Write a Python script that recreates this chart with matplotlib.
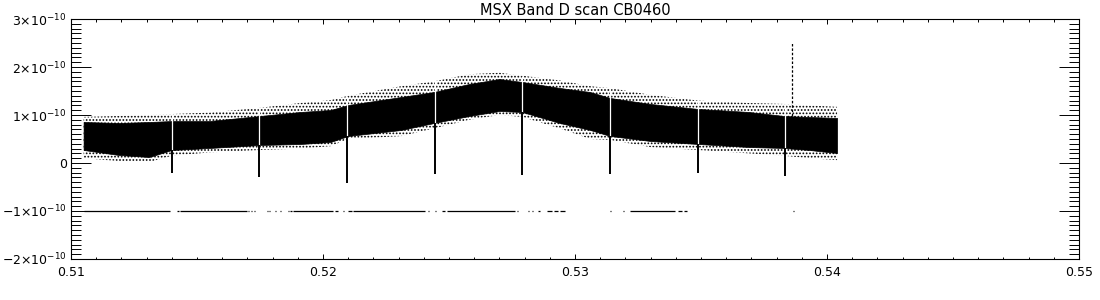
import matplotlib
matplotlib.use("Agg")
import matplotlib.pyplot as plt
from matplotlib.ticker import MultipleLocator, FixedLocator
import numpy as np

# ---- data ----
band_x = [0.5105, 0.5119, 0.5131, 0.5140, 0.5155, 0.5175, 0.5191, 0.5203, 0.5210,
          0.5231, 0.5244, 0.5258, 0.5270, 0.5279, 0.5294, 0.5306, 0.5314, 0.5330,
          0.5349, 0.5369, 0.5383, 0.5393, 0.5404]
core_hi = [0.854, 0.833, 0.854, 0.875, 0.875, 0.979, 1.063, 1.104, 1.208,
           1.375, 1.479, 1.646, 1.750, 1.688, 1.563, 1.479, 1.354, 1.229,
           1.125, 1.063, 0.979, 0.958, 0.938]
core_lo = [0.271, 0.167, 0.125, 0.271, 0.313, 0.375, 0.396, 0.438, 0.563,
           0.688, 0.833, 0.979, 1.083, 1.063, 0.833, 0.688, 0.563, 0.458,
           0.396, 0.333, 0.313, 0.271, 0.208]
scat_hi = [0.96, 0.98, 1.00, 1.02, 1.05, 1.15, 1.25, 1.31, 1.40,
           1.60, 1.70, 1.85, 1.88, 1.82, 1.72, 1.60, 1.56, 1.42,
           1.30, 1.25, 1.23, 1.20, 1.17]
scat_lo = [0.10, 0.04, 0.02, 0.15, 0.22, 0.27, 0.30, 0.35, 0.50,
           0.56, 0.72, 0.90, 1.00, 0.96, 0.72, 0.50, 0.48, 0.33,
           0.27, 0.20, 0.15, 0.10, 0.06]

dip_x = [0.51401, 0.51746, 0.52095, 0.52444, 0.52791, 0.53139, 0.53488, 0.53833]
dip_min = [-0.21, -0.29, -0.42, -0.23, -0.25, -0.23, -0.21, -0.27]
peak_x = 0.53863
peak_max = 2.50

flag_level = -1.0
flag_start = [0.51052, 0.51421, 0.51433, 0.51702, 0.51714, 0.51726, 0.51778, 0.51786,
              0.51810, 0.51829, 0.51861, 0.51869, 0.51881, 0.52048, 0.52079, 0.52099,
              0.52119, 0.52417, 0.52444, 0.52472, 0.52492, 0.52770, 0.52813, 0.52829,
              0.52853, 0.52889, 0.52917, 0.52940, 0.53139, 0.53190, 0.53218, 0.53409,
              0.53433, 0.53865]
flag_end = [0.51393, 0.51429, 0.51698, 0.51706, 0.51718, 0.51730, 0.51782, 0.51790,
            0.51813, 0.51833, 0.51865, 0.51877, 0.52040, 0.52060, 0.52083, 0.52115,
            0.52405, 0.52421, 0.52448, 0.52484, 0.52762, 0.52774, 0.52817, 0.52833,
            0.52861, 0.52909, 0.52933, 0.52960, 0.53143, 0.53194, 0.53397, 0.53425,
            0.53444, 0.53869]

x_ticks = [0.51, 0.52, 0.53, 0.54, 0.55]
x_labels = ['0.51', '0.52', '0.53', '0.54', '0.55']
y_ticks = [-2e-10, -1e-10, 0, 1e-10, 2e-10, 3e-10]
y_labels = [r'$-2{\times}10^{-10}$', r'$-1{\times}10^{-10}$', '0',
            r'$1{\times}10^{-10}$', r'$2{\times}10^{-10}$', r'$3{\times}10^{-10}$']

SCALE = 1e-10

# ---- figure ----
plt.rcParams['font.family'] = ['DejaVu Sans']
plt.rcParams['mathtext.fontset'] = 'dejavusans'
plt.rcParams['hatch.linewidth'] = 0.8
fig = plt.figure(figsize=(11, 3), dpi=100)
ax = fig.add_axes([71 / 1100, 41 / 300, 1008 / 1100, 240 / 300])

def s(v):
    return [a * SCALE for a in v]

# sparse outlier fringe
ax.fill_between(band_x, s(scat_lo), s(scat_hi), facecolor='none', edgecolor='black',
                hatch='.....', linewidth=0)
# dense core
ax.fill_between(band_x, s(core_lo), s(core_hi), color='black', linewidth=0.5)

# dips below band and gaps through band
for xv, mn in zip(dip_x, dip_min):
    lo = np.interp(xv, band_x, core_lo) * SCALE
    hi = np.interp(xv, band_x, scat_hi) * SCALE
    ax.plot([xv, xv], [hi, lo], color='white', lw=0.9, solid_capstyle='butt')
    ax.plot([xv, xv], [mn * SCALE, lo], color='black', lw=1.4, solid_capstyle='butt')

# upward spike
top_here = np.interp(peak_x, band_x, core_hi) * SCALE
ax.plot([peak_x, peak_x], [top_here, peak_max * SCALE], color='black', lw=0.9,
        linestyle=(0, (2, 1.5)))

# flagged points at -1e-10
for a, b in zip(flag_start, flag_end):
    ax.plot([a, b], [flag_level * SCALE, flag_level * SCALE], color='black', lw=0.9,
            solid_capstyle='butt')

ax.set_xlim(0.51, 0.55)
ax.set_ylim(-2e-10, 3e-10)

ax.xaxis.set_major_locator(FixedLocator(x_ticks))
ax.xaxis.set_minor_locator(MultipleLocator(0.001))
ax.yaxis.set_major_locator(FixedLocator(y_ticks))
ax.yaxis.set_minor_locator(MultipleLocator(1e-11))

ax.set_xticklabels(x_labels)
ax.set_yticklabels(y_labels)

ax.tick_params(axis='both', which='both', direction='in', top=True, right=True,
               width=0.7, colors='black')
ax.tick_params(axis='x', which='major', length=3.6, pad=5, labelsize=9)
ax.tick_params(axis='x', which='minor', length=1.8)
ax.tick_params(axis='y', which='major', length=14.4, pad=3, labelsize=9)
ax.tick_params(axis='y', which='minor', length=7.2)
for sp in ax.spines.values():
    sp.set_linewidth(0.8)

ax.set_title('MSX Band D scan CB0460', fontsize=10.5, pad=3)

fig.savefig('out.png', dpi=100, facecolor='white')
